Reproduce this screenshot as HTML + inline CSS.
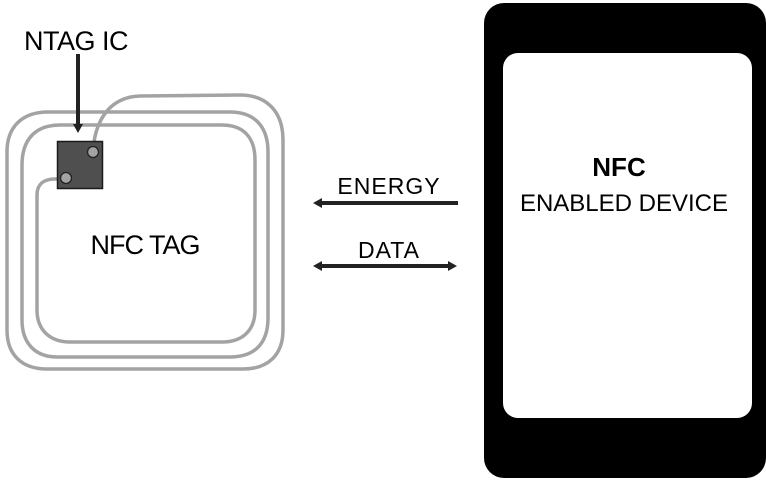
<!DOCTYPE html>
<html><head><meta charset="utf-8"><style>
html,body{margin:0;padding:0;background:#fff;}
svg{display:block}
text{font-family:"Liberation Sans",sans-serif;fill:#000}
</style></head><body>
<svg width="766" height="481" viewBox="0 0 766 481" xmlns="http://www.w3.org/2000/svg">
<defs>
<marker id="ah" markerWidth="10" markerHeight="10" refX="4" refY="5" orient="auto-start-reverse" markerUnits="userSpaceOnUse">
<path d="M0,0 L9,5 L0,10 Z" fill="#222"/></marker>
</defs>
<path d="M93,151 C95,120 110,97 140,96 L240,95 C265,95 283,110 283,140 L283,330 C283,355 268,369 243,369 L47,369 C22,369 7,355 7,330 L7,152 C7,127 22,112 48,112 L230,112 C255,112 268,127 268,152 L268,318 C268,343 255,357 230,357 L57,357 C35,357 22,343 22,320 L22,165 C22,140 35,125 60,125 L222,125 C244,125 255,138 255,160 L255,310 C255,330 243,342 222,342 L70,342 C50,342 37,330 37,310 L37,195 C37,184 44,179 55,179 L66,179" fill="none" stroke="#a3a3a3" stroke-width="3.5"/>
<rect x="57.5" y="141.5" width="45" height="47" fill="#4f4f4f" stroke="#1a1a1a" stroke-width="1.5"/>
<circle cx="93" cy="152" r="5.5" fill="#a3a3a3" stroke="#222" stroke-width="1.3"/>
<circle cx="66" cy="178" r="5.5" fill="#a3a3a3" stroke="#222" stroke-width="1.3"/>
<line x1="78" y1="54" x2="78" y2="128" stroke="#222" stroke-width="4" marker-end="url(#ah)"/>
<text x="24" y="50" font-size="27" letter-spacing="-0.5">NTAG IC</text>
<text x="145" y="254" font-size="27" text-anchor="middle" letter-spacing="-1">NFC TAG</text>
<line x1="458" y1="203" x2="318" y2="203" stroke="#222" stroke-width="4" marker-end="url(#ah)"/>
<line x1="318" y1="266" x2="452" y2="266" stroke="#222" stroke-width="4" marker-start="url(#ah)" marker-end="url(#ah)"/>
<text x="389" y="194" font-size="23" text-anchor="middle" letter-spacing="1">ENERGY</text>
<text x="389" y="258" font-size="23" text-anchor="middle" letter-spacing="1">DATA</text>
<rect x="484" y="3" width="282" height="475" rx="20" fill="#000"/>
<rect x="503" y="53" width="249" height="365" rx="15" fill="#fff"/>
<text x="619" y="176" font-size="26" font-weight="bold" text-anchor="middle">NFC</text>
<text x="624" y="211" font-size="24" text-anchor="middle">ENABLED DEVICE</text>
</svg>
</body></html>
